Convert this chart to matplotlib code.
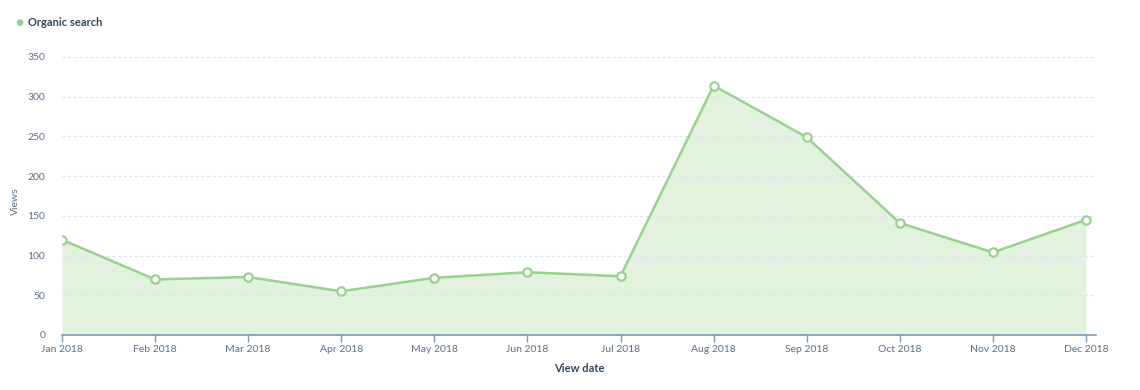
import matplotlib.pyplot as plt
import numpy as np

plt.rcParams['font.family'] = ['Lato', 'DejaVu Sans']

months = ['Jan 2018', 'Feb 2018', 'Mar 2018', 'Apr 2018', 'May 2018', 'Jun 2018',
          'Jul 2018', 'Aug 2018', 'Sep 2018', 'Oct 2018', 'Nov 2018', 'Dec 2018']
views = [120, 70, 73, 55, 72, 79, 74, 314, 249, 141, 104, 145]
yticks = [0, 50, 100, 150, 200, 250, 300, 350]

line_col = '#99d18f'
fill_col = '#e3f1df'
axis_col = '#7c98b6'
text_col = '#5c7087'
dark_col = '#33475b'

fig = plt.figure(figsize=(11.4, 3.9), dpi=100)
ax = fig.add_axes([62/1140, 1-335/390, (1096-62)/1140, (335-57)/390])

x = np.arange(len(months))
ax.fill_between(x, views, 0, color=fill_col, lw=0, zorder=1)
ax.plot(x, views, color=line_col, lw=1.8, zorder=3,
        marker='o', ms=6, mfc='white', mec=line_col, mew=1.6)

ax.set_xlim(0, 11 + 10/93.1)
ax.set_ylim(0, 350)
ax.set_xticks(x)
ax.set_xticklabels(months)
ax.set_yticks(yticks)

ax.grid(axis='y', color='#dfe6ef', ls=(0, (3, 2)), lw=0.8, zorder=0)
for s in ['top', 'right', 'left']:
    ax.spines[s].set_visible(False)
ax.spines['bottom'].set_color(axis_col)
ax.spines['bottom'].set_linewidth(1.2)
ax.tick_params(axis='x', colors=axis_col, length=5, width=1, labelcolor=text_col,
               labelsize=7.5, pad=2)
ax.tick_params(axis='y', length=0, labelcolor=text_col, labelsize=7.5, pad=12)

ax.set_xlabel('View date', fontsize=8, color=dark_col, fontweight='bold', labelpad=7)
ax.set_ylabel('Views', fontsize=7.5, color=text_col)
ax.yaxis.set_label_coords(-42/1034, 0.48)

# legend
fig.text(19/1140, 1-23/390, '\u25cf', color=line_col, fontsize=10, ha='center', va='center')
fig.text(28/1140, 1-23/390, 'Organic search', color=dark_col, fontsize=8,
         fontweight='bold', ha='left', va='center')

plt.savefig('out.png', dpi=100)
